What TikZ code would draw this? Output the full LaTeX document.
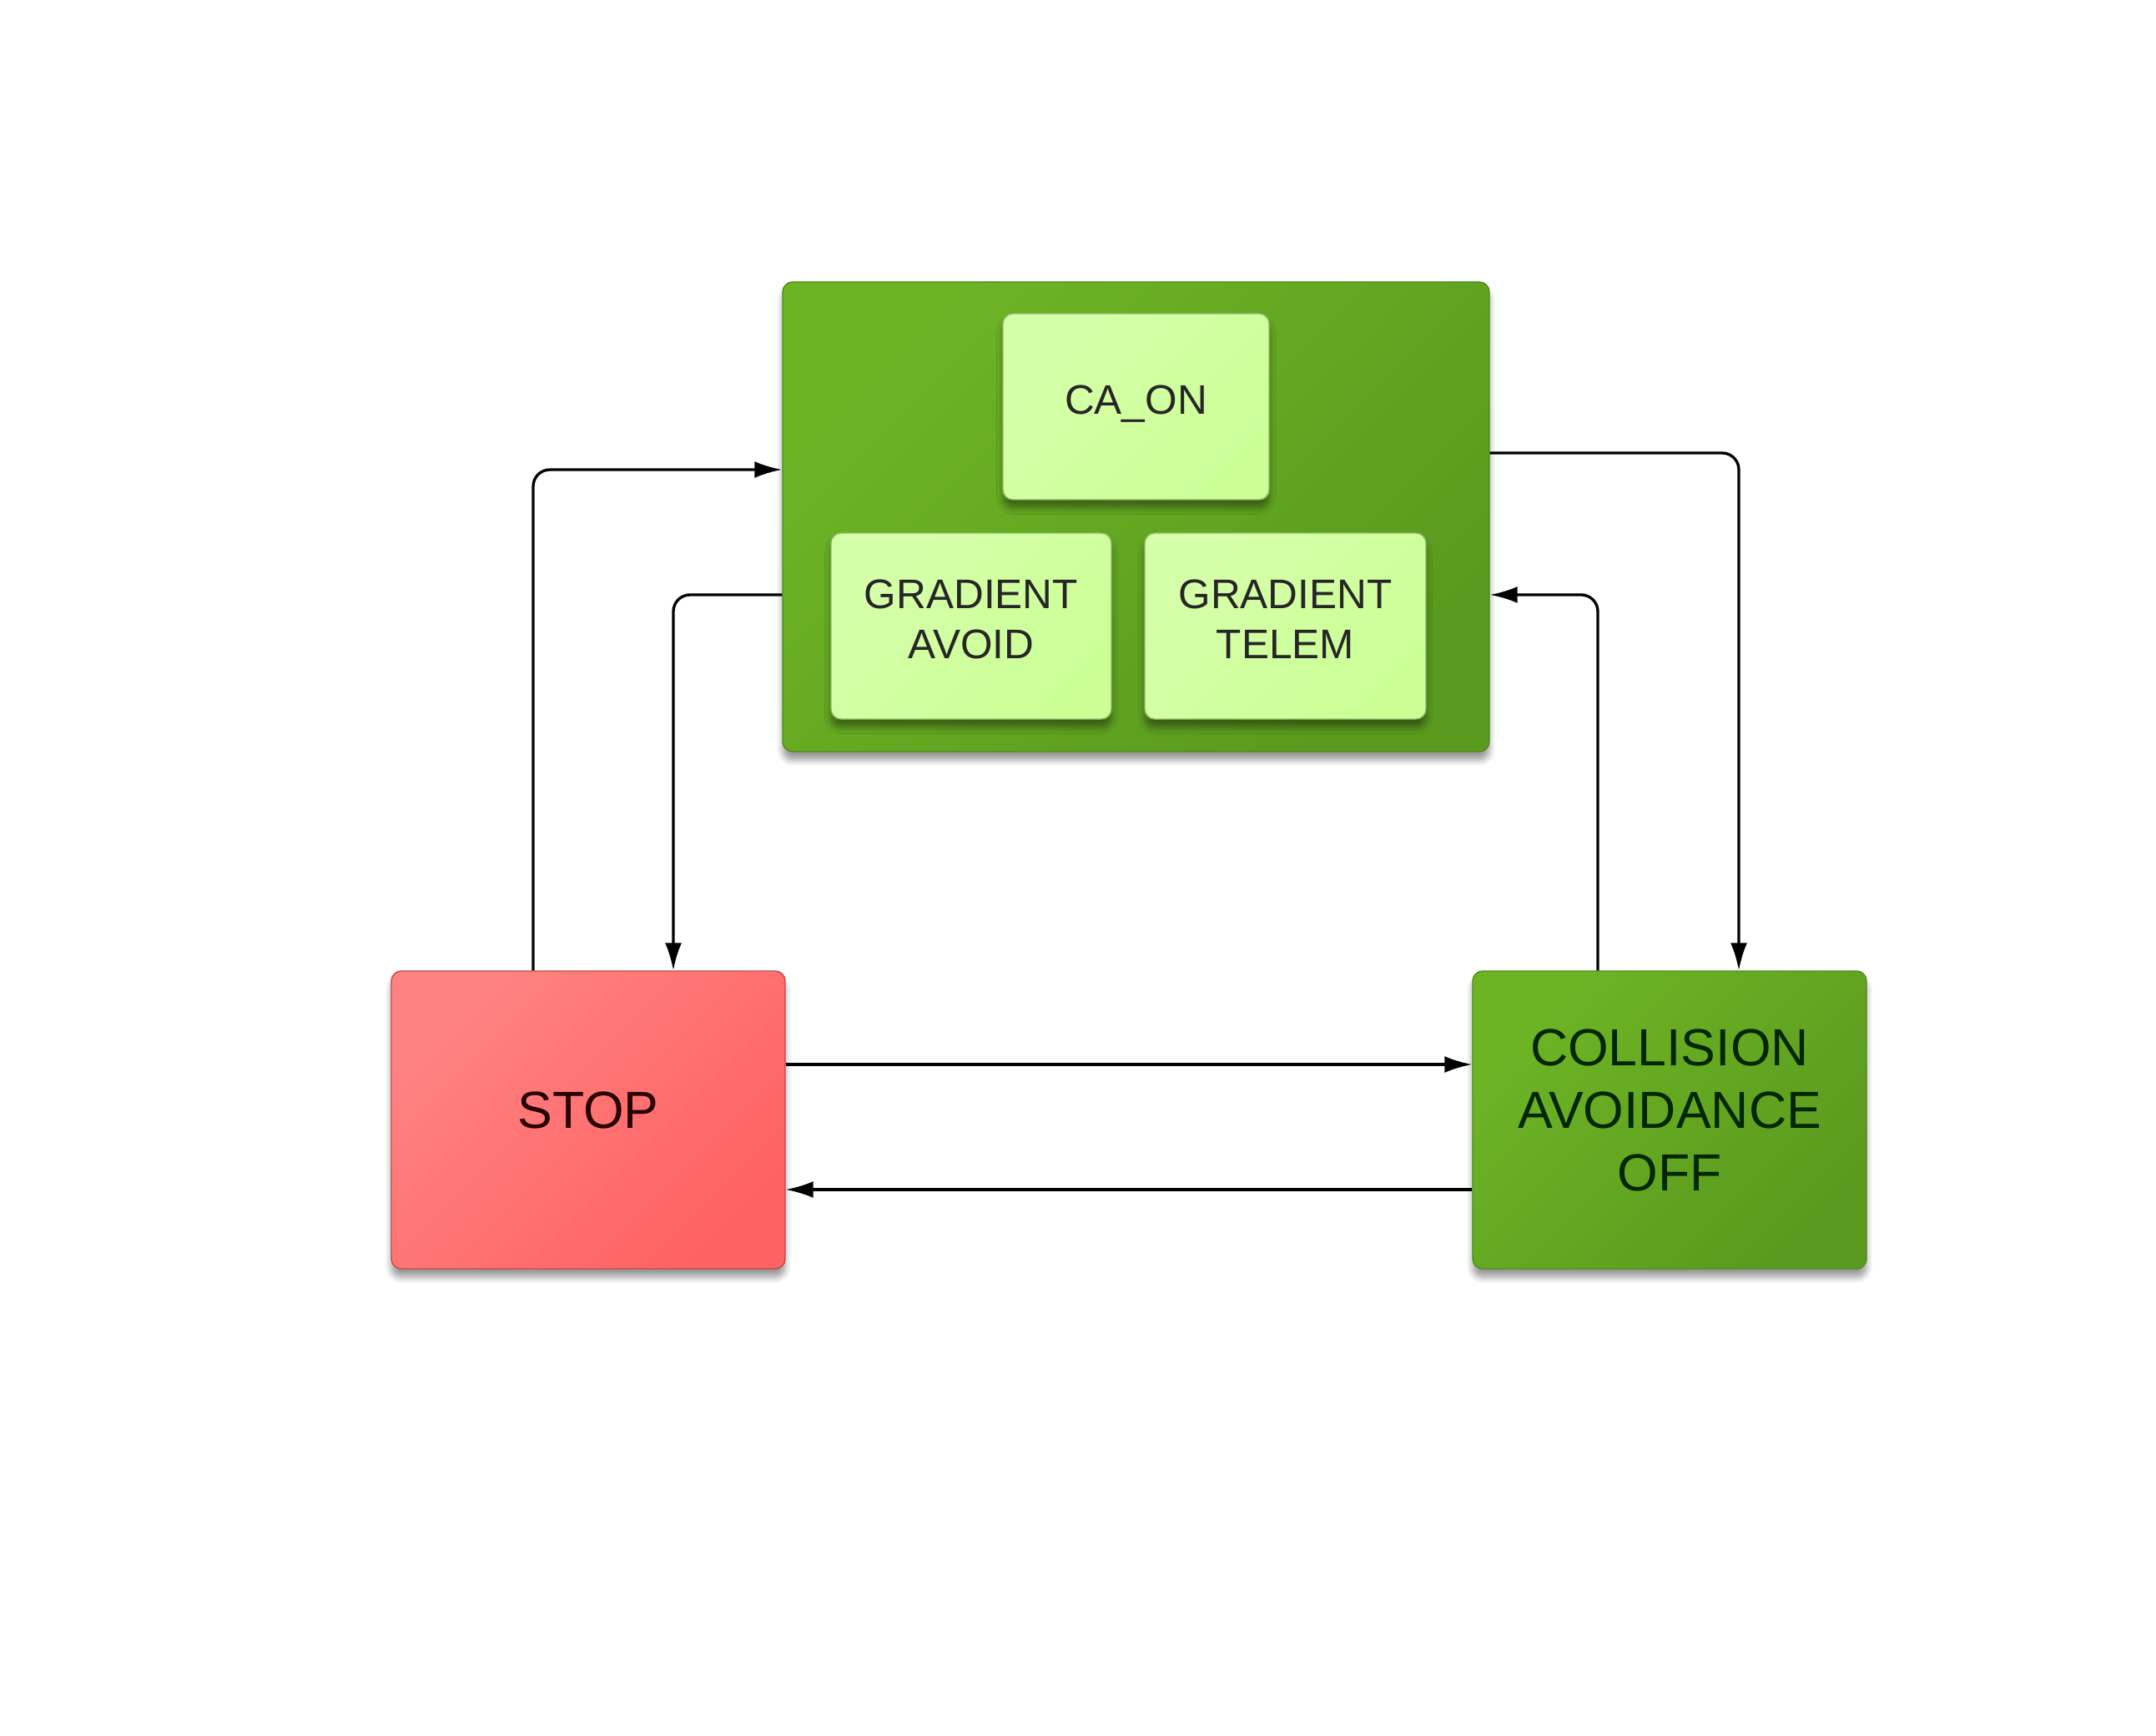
\documentclass[tikz,border=0pt]{standalone}
\usepackage{fontspec}
\setmainfont{Liberation Sans}
\usetikzlibrary{arrows.meta,shadows.blur}
\definecolor{gdark}{HTML}{5A9A1E}
\definecolor{glight}{HTML}{6DB425}
\definecolor{gline}{HTML}{4E8A1A}
\definecolor{pale}{HTML}{D6FFAA}
\definecolor{palelow}{HTML}{CBFF96}
\definecolor{paleline}{HTML}{8DB865}
\definecolor{rlight}{HTML}{FF8282}
\definecolor{rdark}{HTML}{FF6262}
\definecolor{rline}{HTML}{C04848}
\begin{document}
\begin{tikzpicture}[>={Latex[length=3.3mm,width=2mm]},
  state/.style={rounded corners=1.2mm, blur shadow={shadow xshift=0mm, shadow yshift=-1mm, shadow blur steps=6, shadow opacity=40}, align=center},
  greenbox/.style={state, draw=gline, top color=glight, bottom color=gdark, shading angle=45},
  subbox/.style={state, draw=paleline, top color=pale, bottom color=palelow, shading angle=45, font=\fontsize{14.1}{17}\selectfont, text=black!85, text depth=1.6mm},
  link/.style={->, line width=0.95pt, rounded corners=2mm}]
  \useasboundingbox (0,0) rectangle (25.84,20.8);

  \node[greenbox, minimum width=8.47cm, minimum height=5.63cm](ca) at (13.615,14.605){};
  \node[subbox, minimum width=3.19cm, minimum height=2.23cm](caon) at (13.615,15.925){CA\_ON};
  \node[subbox, minimum width=3.36cm, minimum height=2.23cm](gavoid) at (11.64,13.295){GRADIENT\\AVOID};
  \node[subbox, minimum width=3.37cm, minimum height=2.23cm](gtelem) at (15.405,13.295){GRADIENT\\TELEM};

  \node[state, draw=rline, top color=rlight, bottom color=rdark, shading angle=45, text depth=2.3mm,
    minimum width=4.72cm, minimum height=3.57cm, font=\fontsize{17.8}{21}\selectfont, text=black!85!red](stop) at (7.05,7.375){STOP};
  \node[greenbox, minimum width=4.72cm, minimum height=3.57cm, text depth=2.3mm, font=\fontsize{17.8}{21.3}\selectfont, text=black!85!green](caoff) at (20.01,7.375){COLLISION\\AVOIDANCE\\OFF};

  \draw[link]([xshift=-6.6mm]stop.north) |- ([yshift=5.65mm]ca.west);
  \draw[link]([yshift=-9.35mm]ca.west) -| ([xshift=10.2mm]stop.north);
  \draw[link]([yshift=7.65mm]ca.east) -| ([xshift=8.3mm]caoff.north);
  \draw[link]([xshift=-8.6mm]caoff.north) |- ([yshift=-9.35mm]ca.east);
  \draw[link]([yshift=6.65mm]stop.east) -- ([yshift=6.65mm]caoff.west);
  \draw[link]([yshift=-8.35mm]caoff.west) -- ([yshift=-8.35mm]stop.east);
\end{tikzpicture}
\end{document}
